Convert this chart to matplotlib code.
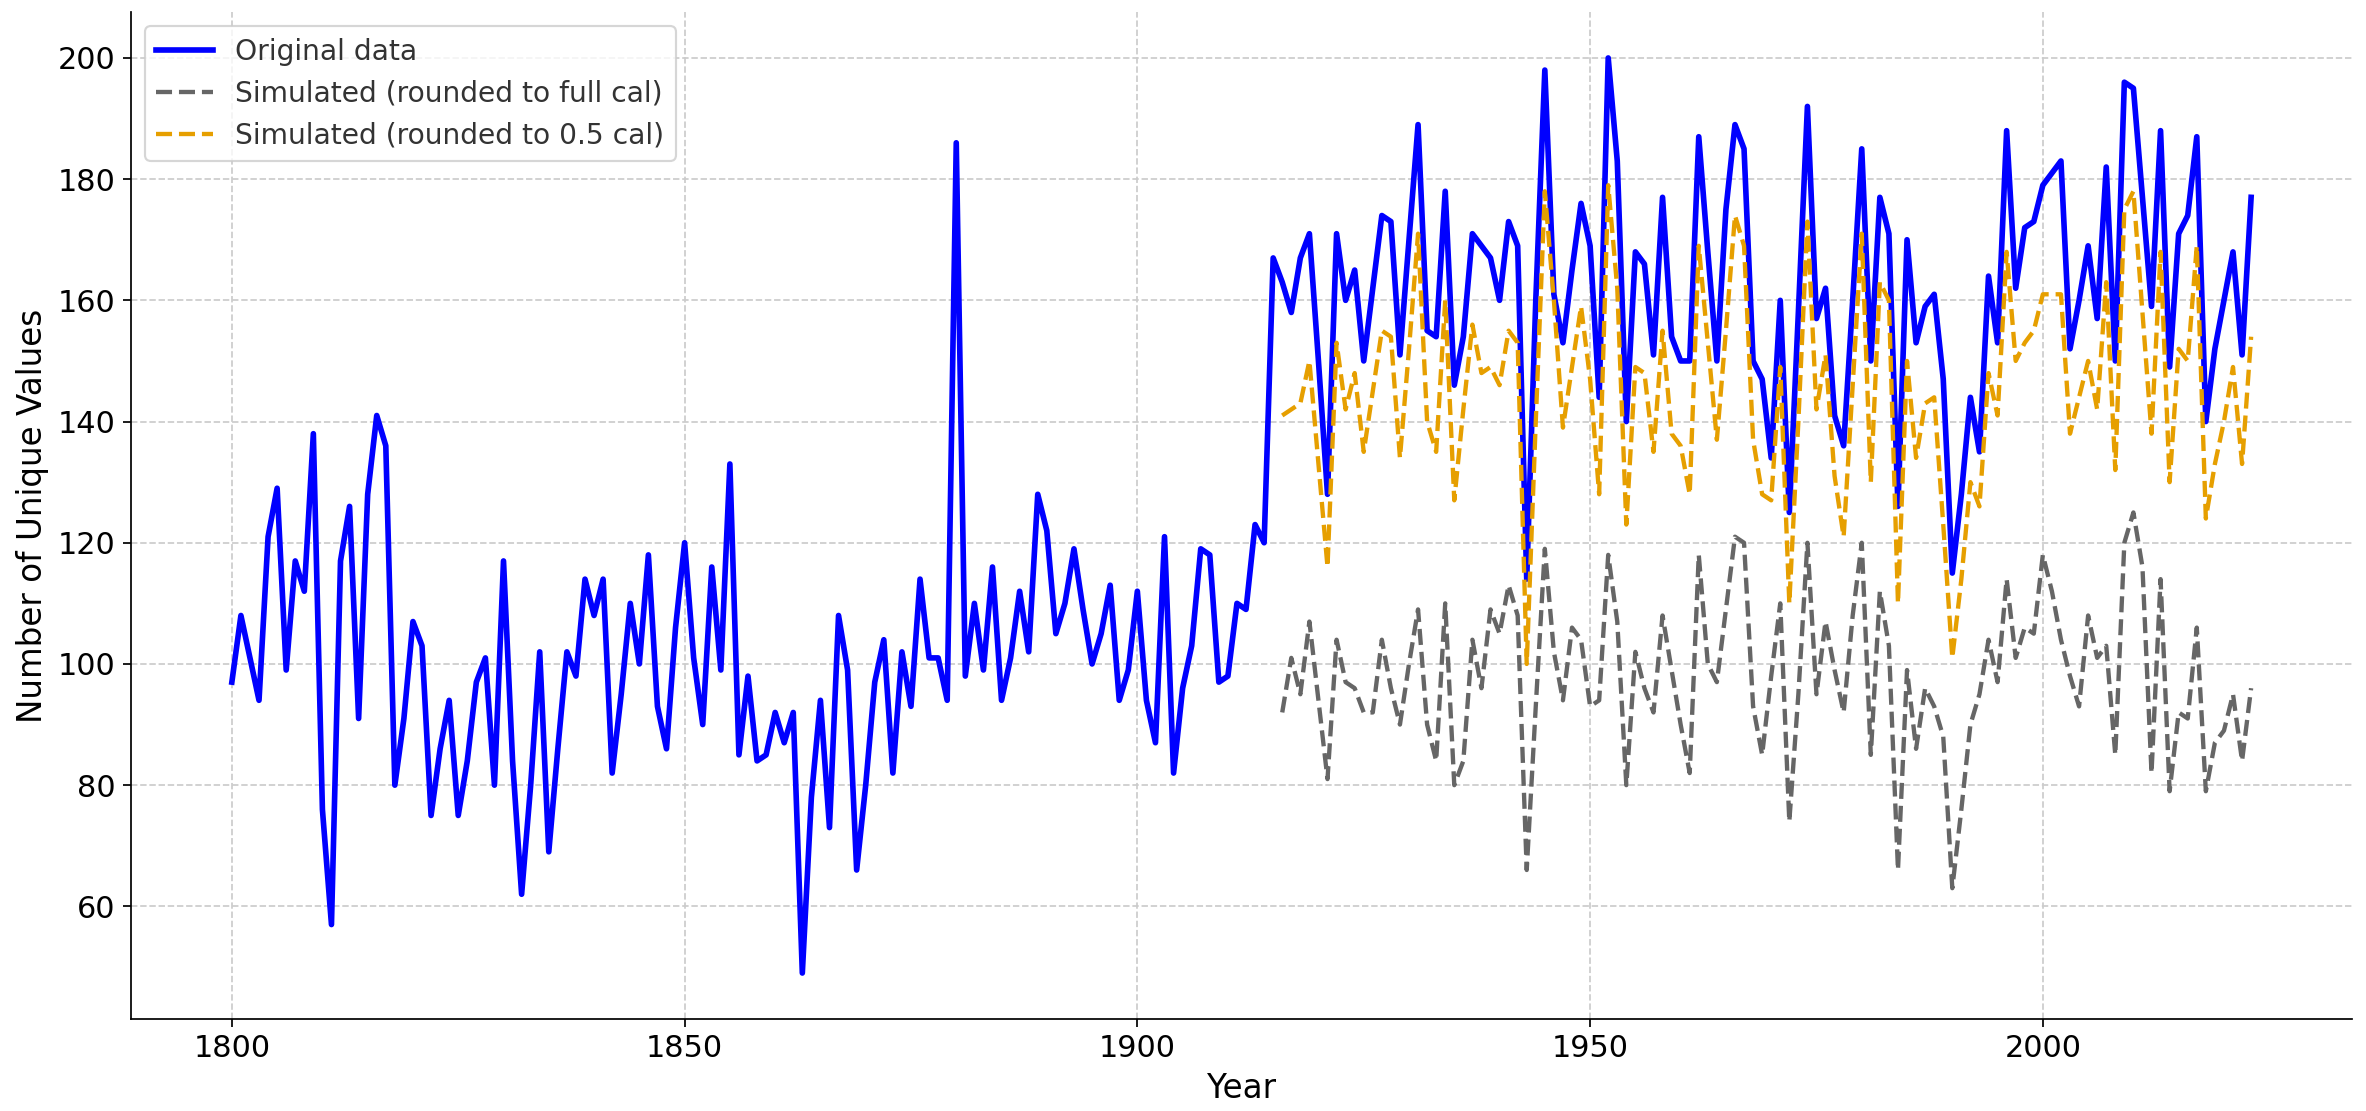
import numpy as np
import matplotlib
matplotlib.use("Agg")
import matplotlib.pyplot as plt

# original series, one value per year from 1800 to 2023
years = np.arange(1800, 2024)
original = [
    97, 108, 101, 94, 121, 129, 99, 117, 112, 138,
    76, 57, 117, 126, 91, 128, 141, 136, 80, 91,
    107, 103, 75, 86, 94, 75, 84, 97, 101, 80,
    117, 84, 62, 80, 102, 69, 86, 102, 98, 114,
    108, 114, 82, 95, 110, 100, 118, 93, 86, 106,
    120, 101, 90, 116, 99, 133, 85, 98, 84, 85,
    92, 87, 92, 49, 78, 94, 73, 108, 99, 66,
    80, 97, 104, 82, 102, 93, 114, 101, 101, 94,
    186, 98, 110, 99, 116, 94, 101, 112, 102, 128,
    122, 105, 110, 119, 109, 100, 105, 113, 94, 99,
    112, 94, 87, 121, 82, 96, 103, 119, 118, 97,
    98, 110, 109, 123, 120, 167, 163, 158, 167, 171,
    150, 128, 171, 160, 165, 150, 162, 174, 173, 151,
    170, 189, 155, 154, 178, 146, 154, 171, 169, 167,
    160, 173, 169, 114, 160, 198, 161, 153, 165, 176,
    169, 144, 200, 183, 140, 168, 166, 151, 177, 154,
    150, 150, 187, 168, 150, 175, 189, 185, 150, 147,
    134, 160, 125, 158, 192, 157, 162, 141, 136, 160,
    185, 150, 177, 171, 126, 170, 153, 159, 161, 147,
    115, 128, 144, 135, 164, 153, 188, 162, 172, 173,
    179, 181, 183, 152, 160, 169, 157, 182, 150, 196,
    195, 177, 159, 188, 149, 171, 174, 187, 140, 152,
    160, 168, 151, 177,
]

# simulated series, 1916 to 2023
sim_years = np.arange(1916, 2024)
sim_full = [
    92, 101, 95, 107,
    94, 81, 104, 97, 96, 92, 92, 104, 96, 90,
    100, 109, 90, 84, 110, 80, 84, 104, 96, 109,
    105, 113, 108, 66, 93, 119, 102, 94, 106, 104,
    93, 94, 118, 107, 80, 102, 96, 92, 108, 99,
    90, 82, 118, 100, 97, 109, 121, 120, 93, 85,
    98, 110, 74, 95, 120, 95, 107, 99, 92, 108,
    120, 85, 112, 103, 66, 99, 86, 96, 93, 88,
    63, 76, 90, 95, 104, 97, 114, 101, 106, 105,
    118, 112, 104, 98, 93, 108, 101, 103, 85, 120,
    125, 116, 82, 114, 79, 92, 91, 106, 79, 87,
    89, 95, 84, 96,
]
sim_half = [
    141, 142, 143, 150,
    133, 116, 153, 142, 148, 135, 145, 155, 154, 134,
    152, 171, 140, 135, 160, 127, 142, 156, 148, 149,
    146, 155, 153, 100, 140, 178, 160, 139, 149, 159,
    147, 128, 179, 162, 123, 149, 148, 135, 155, 138,
    136, 128, 169, 153, 137, 155, 174, 169, 137, 128,
    127, 149, 110, 140, 173, 142, 151, 131, 121, 146,
    171, 130, 163, 160, 110, 150, 134, 143, 144, 123,
    101, 114, 130, 126, 148, 141, 168, 150, 153, 155,
    161, 161, 161, 138, 144, 150, 142, 163, 132, 175,
    178, 158, 138, 168, 130, 152, 150, 169, 124, 133,
    140, 149, 133, 154,
]

fig, ax = plt.subplots(figsize=(15.173, 7.122), dpi=156)
fig.subplots_adjust(left=0.0553, right=0.9937, bottom=0.083, top=0.989)

ax.plot(years, original, color='#0000ff', lw=2.6, label='Original data')
ax.plot(sim_years, sim_full, color='#666666', lw=2.0, ls='--',
        label='Simulated (rounded to full cal)')
ax.plot(sim_years, sim_half, color='#e69f00', lw=2.0, ls='--',
        label='Simulated (rounded to 0.5 cal)')

ax.set_xlabel('Year', fontsize=15)
ax.set_ylabel('Number of Unique Values', fontsize=15)
ax.tick_params(labelsize=14)
ax.set_yticks(range(60, 201, 20))
ax.grid(True, color='#cccccc', ls='--', lw=0.8)
ax.spines['top'].set_visible(False)
ax.spines['right'].set_visible(False)

leg = ax.legend(loc='upper left', fontsize=13)
for t in leg.get_texts():
    t.set_color('#333333')

fig.savefig('out.png', dpi=156)
